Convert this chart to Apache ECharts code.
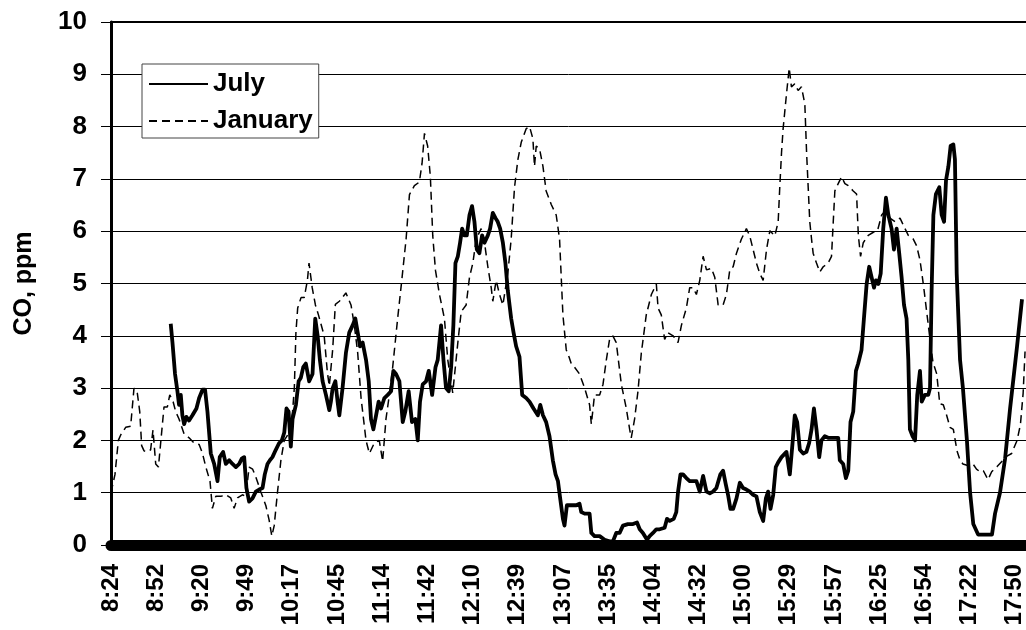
<!DOCTYPE html>
<html>
<head>
<meta charset="utf-8">
<title>CO, ppm</title>
<script src="https://cdn.jsdelivr.net/npm/echarts@6/dist/echarts.min.js"></script>
<style>
  html, body { margin: 0; padding: 0; background: #fff; }
  #chart { width: 1026px; height: 630px; }
</style>
</head>
<body>
<div id="chart"></div>
<script>
// Time axis: minutes elapsed since 8:24, one label every 28.3 minutes
const tickLabels = ['8:24', '8:52', '9:20', '9:49', '10:17', '10:45', '11:14', '11:42', '12:10', '12:39',
  '13:07', '13:35', '14:04', '14:32', '15:00', '15:29', '15:57', '16:25', '16:54', '17:22', '17:50'];
const tickStep = 28.3;
const axisEnd = 573;

// July record: sample times (minutes after 8:24) and CO concentration, ppm
const julyMinutes = [37.4, 38.5, 40.1, 41.6, 42.6, 43.7, 44.7, 45.8, 47.2, 48.9, 51, 53.5, 55.2, 57.3, 58.9, 60.4,
  62.5, 64.6, 66.7, 68.1, 70.2, 71.9, 74, 76.1, 78.2, 80.3, 81.9, 83.4, 84.8, 86.5, 88.6, 90.7, 92.8, 94.9, 96.3,
  98, 99.5, 101.1, 103.2, 105.3, 107, 108.5, 109.9, 111.2, 112.6, 113.7, 115.8, 117.5, 118.9, 120.4, 122, 124.1,
  126.2, 127.9, 129.4, 130.8, 132.5, 134.6, 136.7, 137.7, 138.8, 140.5, 141.9, 143, 145, 147.1, 149.2, 151.3, 153,
  154.5, 155.9, 157.6, 159.7, 161.4, 162.8, 164.3, 166, 167.6, 169.1, 171.2, 173.3, 175.4, 176.8, 178.5, 180.6,
  182.7, 184.3, 186.4, 188.5, 190.6, 192.1, 193.5, 195.2, 197.3, 199, 201.1, 203.2, 204.6, 206.7, 208.2, 209.8,
  211.5, 213, 214.4, 215.7, 217.2, 218.6, 219.9, 221.3, 222.8, 224.5, 226.1, 227.6, 229.1, 230.7, 232.4, 233.9,
  236, 237.4, 239.1, 240.8, 242.2, 243.7, 245.4, 247, 248.5, 250.6, 252.1, 253.7, 255.8, 257.5, 260, 262.1, 264.6,
  267.3, 268.8, 270.5, 272.5, 274.6, 276.7, 278.4, 279.9, 281.3, 283, 284, 285.5, 288.2, 291.3, 293.4, 294.5,
  296.6, 299.7, 300.8, 302.8, 306, 309.1, 312.2, 314.3, 316.4, 318.5, 320.6, 323.7, 326.9, 329.4, 331.1, 333.1,
  335.7, 337.3, 339.4, 341.5, 343.6, 346.7, 348.2, 349.9, 352.4, 354, 355.1, 356.6, 358.2, 360.3, 362.4, 364.5,
  366.6, 368.7, 370.8, 372.9, 375, 377, 379.1, 381.6, 383.3, 385, 386.4, 387.9, 389.6, 391.7, 393.8, 395.8, 397.9,
  400, 402.1, 404.2, 406.3, 408.4, 410.1, 411.5, 413, 414.7, 416.3, 417.8, 419.9, 423, 425.1, 426.8, 428.2, 429.7,
  431.4, 433.5, 435.5, 437.2, 438.7, 440.2, 441.8, 443.5, 444.9, 447, 449.1, 452.3, 455.4, 456.4, 458.5, 460.2,
  461.7, 463.1, 464.8, 466.5, 467.9, 470, 471.5, 473.2, 474.8, 476.3, 477.8, 479, 480.5, 482, 483.6, 485.3, 486.8,
  488.8, 490.3, 492, 493.6, 495.1, 496.6, 498.2, 499.3, 500.3, 502, 503.5, 504.9, 506.6, 507.7, 509.7, 511.8, 512.9,
  513.9, 515, 516.6, 518.7, 520.2, 521.7, 522.9, 524.4, 525.8, 527.5, 528.5, 529.6, 531.7, 533.5, 536, 538, 540,
  543, 551.7, 553.6, 556.7, 559.9, 563, 567.4, 570.5];
const julyCO = [4.23, 3.87, 3.27, 2.94, 2.68, 2.87, 2.48, 2.31, 2.45, 2.38, 2.48, 2.61, 2.81, 2.97, 2.97, 2.55,
  1.75, 1.55, 1.22, 1.68, 1.78, 1.55, 1.62, 1.55, 1.49, 1.55, 1.65, 1.68, 1.09, 0.83, 0.89, 1.02, 1.06, 1.09, 1.35,
  1.55, 1.62, 1.68, 1.82, 1.95, 2.0, 2.15, 2.61, 2.55, 1.88, 2.41, 2.68, 3.13, 3.2, 3.4, 3.47, 3.13,
  3.27, 4.33, 4.0, 3.54, 3.13, 2.87, 2.58, 2.74, 3.0, 3.13, 2.74, 2.48, 3.0, 3.67, 4.06, 4.2, 4.33,
  4.06, 3.8, 3.87, 3.54, 3.13, 2.41, 2.21, 2.48, 2.74, 2.61, 2.81, 2.87, 2.94, 3.33, 3.27, 3.13,
  2.35, 2.55, 2.94, 2.35, 2.41, 2.0, 2.74, 3.07, 3.13, 3.33, 2.87, 3.4, 3.54, 4.2, 3.54, 3.0,
  2.94, 3.4, 4.2, 5.39, 5.52, 5.78, 6.05, 5.92, 5.92, 6.31, 6.48, 6.18, 5.65, 5.58, 5.92, 5.78,
  5.92, 6.05, 6.35, 6.25, 6.18, 6.05, 5.78, 5.39, 4.86, 4.33, 4.06, 3.8, 3.6, 2.87, 2.81, 2.74, 2.61,
  2.48, 2.68, 2.48, 2.35, 2.08, 1.62, 1.35, 1.22, 0.89, 0.5, 0.37, 0.76, 0.76, 0.76, 0.79, 0.63,
  0.6, 0.6, 0.23, 0.17, 0.17, 0.1, 0.07, 0.07, 0.23, 0.23, 0.37, 0.4, 0.4, 0.43, 0.3, 0.23,
  0.1, 0.17, 0.23, 0.3, 0.3, 0.33, 0.5, 0.46, 0.5, 0.63, 1.02, 1.35, 1.35, 1.28, 1.22, 1.22,
  1.22, 1.02, 1.32, 1.02, 0.99, 1.02, 1.09, 1.35, 1.42, 1.16, 0.96, 0.69, 0.69, 0.89, 1.19, 1.09, 1.06,
  1.02, 0.96, 0.93, 0.63, 0.46, 0.89, 1.02, 0.69, 0.96, 1.49, 1.58, 1.68, 1.78, 1.35, 1.95, 2.48, 2.35,
  1.82, 1.75, 1.78, 1.95, 2.21, 2.61, 2.21, 1.68, 2.0, 2.08, 2.05, 2.05, 2.05, 1.62, 1.55, 1.28,
  1.42, 2.35, 2.55, 3.33, 3.47, 3.73, 4.33, 4.99, 5.32, 5.12, 4.92, 5.06, 4.99, 5.19, 6.05, 6.64, 6.31,
  6.05, 5.65, 6.05, 5.58, 5.12, 4.59, 4.33, 3.54, 2.21, 2.08, 2.0, 2.87, 3.33, 2.74, 2.87, 2.87, 3.0,
  4.86, 6.31, 6.71, 6.84, 6.31, 6.18, 6.97, 7.24, 7.63, 7.66, 7.37, 5.19, 3.54, 3.0, 2.0, 1.0, 0.4,
  0.2, 0.2, 0.6, 1.0, 1.65, 2.6, 3.8, 4.7];

// January record: sample times (minutes after 8:24) and CO concentration, ppm
const janMinutes = [0, 2.5, 4.6, 6, 9.2, 12.3, 14.4, 16.5, 18, 19.2, 20.7, 22.8, 24.8, 26.3, 28, 29.7, 31.1, 33.2,
  35.3, 36.8, 38.9, 40.5, 42.6, 45.8, 48.9, 52, 55.2, 57.3, 59.4, 62, 63.5, 65.6, 68.8, 71.9, 75, 77.1, 79.2, 82.3,
  84.4, 86.5, 88.7, 90.7, 93.8, 97, 99, 100.7, 102.2, 104.3, 106.4, 108.5, 111.6, 113.7, 114.8, 115.8, 116.9, 119,
  121, 123, 124, 126, 128, 130, 133.5, 135.5, 136.7, 138.8, 140.5, 143, 147.1, 150.3, 152.4, 154.5, 156.6, 159.7,
  161.8, 164.9, 168, 170.1, 172.2, 174.3, 176.4, 179.5, 181.6, 184.8, 186.9, 190, 193.1, 194.8, 196.3, 198.3, 200,
  201.5, 203.2, 205.7, 208.8, 210.9, 214, 217.2, 219.3, 222.4, 224.5, 226.6, 228.7, 231.8, 233.9, 236, 238.1, 239.1,
  241.2, 243.3, 245.4, 248.5, 250.6, 252.7, 254.8, 256.9, 260, 262.1, 264.2, 265.2, 266.3, 268.4, 270.5, 272.5,
  275.7, 278.8, 280.9, 283, 285.1, 286.8, 288.2, 290.3, 293.4, 296.6, 299.7, 300.8, 302.8, 306, 308.1, 310.2,
  312.2, 314.3, 316.4, 319.6, 322.7, 324.8, 325.8, 327.9, 330, 332.1, 335.2, 338.4, 341.5, 342.6, 344.6, 346.7,
  348.8, 352, 355.1, 357.2, 360.3, 362.4, 364.5, 366.6, 368.7, 370.8, 372.9, 376, 378.1, 380.2, 383.3, 385.4,
  387.5, 389.6, 391.7, 394.8, 397.9, 400, 402.1, 404.2, 406.3, 408.4, 410.5, 412.6, 415.7, 417.8, 418.8, 419.9,
  420.9, 423, 424.7, 426.1, 428.2, 430.3, 432.4, 434.5, 435.6, 436.6, 437.6, 438.7, 439.7, 441.8, 443.9, 446,
  449.1, 451.2, 452.3, 453.3, 455.4, 457.5, 459.6, 461.7, 464.8, 466.9, 468, 469.4, 471.1, 474.2, 477.4, 480,
  482.6, 484.7, 487.8, 491, 494.1, 497.2, 499.3, 502.4, 504.5, 506.6, 508.7, 510.8, 512.9, 514.7, 517.1, 519,
  521.2, 523.3, 525.4, 527.5, 529.8, 531.7, 533.5, 536.5, 539.8, 542, 544.2, 546.3, 549.2, 551.5, 554.9, 558,
  561.1, 564, 567.4, 569.5, 571.2, 572.4];
const janCO = [1.0, 1.35, 2.0, 2.1, 2.25, 2.27, 3.0, 2.9, 2.55, 1.9, 1.8, 1.78, 1.82, 2.2, 1.55, 1.49, 1.95, 2.64,
  2.64, 2.87, 2.74, 2.55, 2.41, 2.12, 2.05, 1.95, 1.92, 1.75, 1.49, 1.22, 0.7, 0.93, 0.93, 0.96, 0.9, 0.7, 0.9, 0.96,
  0.93, 1.49, 1.45, 1.3, 1.02, 0.75, 0.48, 0.17, 0.37, 1.02, 1.62, 2.0, 2.15, 2.55, 3.0, 4.06, 4.53, 4.73,
  4.73, 5.06, 5.39, 4.92, 4.59, 4.39, 4.0, 3.3, 3.04, 3.73, 4.6, 4.66, 4.82, 4.59, 4.2, 3.67, 2.81, 2.0,
  1.75, 1.95, 2.0, 1.6, 2.41, 2.87, 3.4, 4.33, 4.92, 5.85, 6.7, 6.87, 6.94, 7.3, 7.87, 7.63, 7.04,
  5.91, 5.25, 4.79, 4.33, 3.54, 2.91, 3.87, 4.46, 4.59, 5.12, 5.39, 5.85, 6.05, 5.78, 5.32, 4.92, 4.66,
  5.06, 4.79, 4.59, 5.19, 5.85, 6.84, 7.37, 7.7, 7.96, 8.0, 7.77, 7.24, 7.63, 7.57, 7.24, 6.77,
  6.51, 6.31, 5.85, 4.4, 3.73, 3.6, 3.47, 3.4, 3.27, 3.0, 2.68, 2.31, 2.87, 2.87, 3.07, 3.54,
  3.93, 4.0, 3.87, 3.07, 2.61, 2.21, 2.05, 2.41, 2.94, 3.67, 4.4, 4.79, 4.99, 4.53, 4.4, 3.93,
  4.06, 4.0, 3.87, 4.2, 4.53, 4.92, 4.92, 4.79, 5.06, 5.52, 5.26, 5.29, 5.12, 4.59, 4.59, 4.79,
  5.26, 5.32, 5.58, 5.85, 6.05, 5.91, 5.65, 5.39, 5.19, 5.06, 5.65, 6.01, 5.91, 6.18, 6.84, 7.5,
  7.96, 8.62, 9.12, 8.76, 8.82, 8.69, 8.76, 8.43, 7.5, 6.84, 6.18, 5.85, 5.58, 5.39, 5.22, 5.32,
  5.39, 5.52, 6.18, 6.77, 6.91, 7.04, 6.91, 6.87, 6.77, 6.71, 5.92, 5.52, 5.78, 5.92, 5.98, 6.01,
  6.31, 6.38, 6.25, 6.18, 6.25, 6.05, 5.92, 5.85, 5.72, 5.45, 4.99, 4.46, 3.93, 3.5, 3.27, 2.7,
  2.68, 2.48, 2.25, 2.21, 1.8, 1.62, 1.55, 1.52, 1.55, 1.45, 1.4, 1.42, 1.25, 1.4, 1.5, 1.6,
  1.7, 1.75, 2.0, 2.3, 2.9, 3.7];

const pairs = (xs, ys) => xs.map((x, i) => [x, ys[i]]);
const fontFamily = '"Liberation Sans", Arial, Helvetica, sans-serif';

const chart = echarts.init(document.getElementById('chart'), null, { renderer: 'canvas' });
chart.setOption({
  animation: false,
  backgroundColor: '#ffffff',
  textStyle: { fontFamily: fontFamily, color: '#000' },
  grid: { left: 111, right: 0, top: 22, bottom: 85, outerBoundsMode: 'none' },
  legend: {
    data: ['July', 'January'],
    orient: 'vertical',
    left: 142,
    top: 64,
    padding: [7, 6, 4, 6],
    itemWidth: 59,
    itemHeight: 26,
    itemGap: 11,
    backgroundColor: '#ffffff',
    borderColor: '#444',
    borderWidth: 1,
    // line sample only, no marker in the key
    itemStyle: { color: 'rgba(0,0,0,0)', borderWidth: 0, opacity: 0 },
    textStyle: { fontFamily: fontFamily, fontSize: 26, lineHeight: 26, fontWeight: 'bold', color: '#000' }
  },
  xAxis: [{
    type: 'value',
    min: 0,
    max: axisEnd,
    interval: tickStep,
    splitLine: { show: false },
    axisTick: { show: false },
    axisLine: { show: true, onZero: true, lineStyle: { color: '#000', width: 11 } },
    axisLabel: {
      rotate: 90,
      margin: 19,
      fontSize: 24,
      fontWeight: 'bold',
      color: '#000',
      fontFamily: fontFamily,
      formatter: function (value) {
        const i = Math.round(value / tickStep);
        if (i < tickLabels.length && Math.abs(value - i * tickStep) < 0.05) return tickLabels[i];
        return '';
      }
    }
  }, {
    type: 'value',
    position: 'top',
    min: 0,
    max: axisEnd,
    splitLine: { show: false },
    axisTick: { show: false },
    axisLabel: { show: false },
    axisLine: { show: true, lineStyle: { color: '#000', width: 2 } }
  }],
  yAxis: {
    type: 'value',
    min: 0,
    max: 10,
    interval: 1,
    name: 'CO, ppm',
    nameLocation: 'middle',
    nameGap: 74,
    nameTextStyle: { fontFamily: fontFamily, fontSize: 25, fontWeight: 'bold', color: '#000' },
    axisLine: { show: true, lineStyle: { color: '#000', width: 3 } },
    axisTick: { show: true, inside: false, length: 10, lineStyle: { color: '#000', width: 1 } },
    axisLabel: { margin: 24, fontSize: 26, fontWeight: 'bold', color: '#000', fontFamily: fontFamily },
    splitLine: { show: true, lineStyle: { color: '#000', width: 1 } }
  },
  series: [{
    name: 'July',
    type: 'line',
    data: pairs(julyMinutes, julyCO),
    symbol: 'none',
    showSymbol: false,
    z: 3,
    lineStyle: { color: '#000', width: 3.8, join: 'round' },
    itemStyle: { color: '#000' }
  }, {
    name: 'January',
    type: 'line',
    data: pairs(janMinutes, janCO),
    symbol: 'none',
    showSymbol: false,
    z: 2,
    lineStyle: { color: '#000', width: 1.5, type: [8, 5] },
    itemStyle: { color: '#000' }
  }]
});
</script>
</body>
</html>
